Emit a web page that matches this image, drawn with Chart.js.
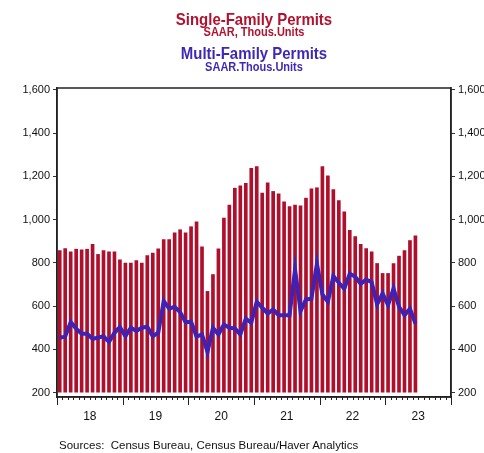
<!DOCTYPE html>
<html>
<head>
<meta charset="utf-8">
<script src="https://cdn.jsdelivr.net/npm/chart.js@4.4.1/dist/chart.umd.min.js"></script>
<style>
  html, body { margin: 0; padding: 0; background: #fff; }
  #wrap { position: relative; width: 484px; height: 453px; }
  .t { position: absolute; left: 0; width: 508px; text-align: center; font-family: "Liberation Sans", Arial, sans-serif; font-weight: bold; white-space: nowrap; line-height: 1; transform: scaleX(0.88); transform-origin: 254px 0; }
  .red { color: #B0122F; }
  .blue { color: #4128B4; }
  #src { position: absolute; left: 59px; top: 439px; font: 11.5px "Liberation Sans", Arial, sans-serif; color: #111; white-space: nowrap; }
</style>
</head>
<body>
<div id="wrap">
  <canvas id="permitsChart" width="484" height="453"></canvas>
  <div class="t red" style="top:11px;font-size:17px;">Single-Family Permits</div>
  <div class="t red" style="top:26px;font-size:12.5px;">SAAR, Thous.Units</div>
  <div class="t blue" style="top:45px;font-size:17px;">Multi-Family Permits</div>
  <div class="t blue" style="top:61px;font-size:12.5px;">SAAR.Thous.Units</div>
  <div id="src">Sources:&nbsp; Census Bureau, Census Bureau/Haver Analytics</div>
</div>
<script>
// monthly, Jan 2018 - Jun 2023
const months = [];
for (let y = 2018; y <= 2023; y++) {
    for (let m = 1; m <= 12; m++) {
        if (y === 2023 && m > 6) break;
        months.push(y + '-' + String(m).padStart(2, '0'));
    }
}

const singleFamily = [
    857, 866, 851, 863, 860, 863, 885, 839, 857, 851, 851, 814,
    799, 799, 811, 799, 833, 845, 865, 908, 908, 939, 953, 939,
    967, 990, 874, 668, 746, 865, 1007, 1067, 1145, 1156, 1167, 1237,
    1245, 1122, 1170, 1130, 1119, 1082, 1060, 1067, 1064, 1099, 1142, 1147,
    1245, 1202, 1138, 1088, 1036, 950, 921, 885, 866, 851, 797, 751,
    751, 797, 831, 857, 903, 925
];

const multiFamily = [
    454, 459, 526, 496, 472, 472, 449, 454, 461, 434, 477, 503,
    461, 500, 485, 500, 505, 461, 477, 623, 588, 597, 572, 526,
    528, 459, 469, 388, 500, 469, 515, 500, 497, 469, 542, 523,
    620, 593, 566, 585, 558, 558, 558, 770, 577, 631, 634, 796,
    654, 620, 739, 708, 680, 750, 736, 703, 723, 711, 608, 659,
    605, 682, 597, 558, 588, 519
];

const yearLabels = ['18', '19', '20', '21', '22', '23'];
const yTicks = [200, 400, 600, 800, 1000, 1200, 1400, 1600];

// x is months since Jan 2018, bar sits in the middle of its month
const sfPoints = singleFamily.map((v, i) => ({ x: i + 0.5, y: v }));
const mfPoints = multiFamily.map((v, i) => ({ x: i + 0.5, y: v }));

const tickFont = { family: '"Liberation Sans", Arial, sans-serif', size: 11 };

const frame = {
    id: 'frame',
    afterDraw(chart) {
        const ctx = chart.ctx;
        const a = chart.chartArea;
        const xs = chart.scales.x;
        ctx.save();
        ctx.strokeStyle = '#222';
        ctx.lineWidth = 1.5;
        ctx.strokeRect(a.left, a.top, a.right - a.left, a.bottom - a.top);
        ctx.lineWidth = 1;
        ctx.beginPath();
        for (let m = 0; m <= yearLabels.length * 12; m++) {
            const px = Math.round(xs.getPixelForValue(m)) + 0.5;
            ctx.moveTo(px, a.bottom);
            ctx.lineTo(px, a.bottom + (m % 12 === 0 ? 8 : 3));
        }
        ctx.stroke();
        ctx.restore();
    }
};

function yAxis(pos) {
    return {
        position: pos,
        min: 180,
        max: 1608,
        afterBuildTicks: s => { s.ticks = yTicks.map(v => ({ value: v })); },
        afterFit: s => { s.width = pos === 'left' ? 57 : 33; },
        grid: { drawOnChartArea: false, tickLength: 4, tickColor: '#333' },
        border: { color: '#222', width: 1.5 },
        ticks: {
            font: tickFont,
            color: '#111',
            padding: 3,
            callback: v => v.toLocaleString('en-US')
        }
    };
}

new Chart(document.getElementById('permitsChart'), {
    data: {
        datasets: [{
            type: 'line',
            label: 'Multi-Family Permits',
            data: mfPoints,
            borderColor: '#3D22B6',
            borderWidth: 4,
            pointRadius: 0,
            tension: 0,
            order: 0
        }, {
            type: 'bar',
            label: 'Single-Family Permits',
            data: sfPoints,
            backgroundColor: '#AE0F2C',
            barThickness: 3,
            base: 200,
            order: 1
        }]
    },
    options: {
        responsive: false,
        animation: false,
        layout: { padding: { top: 88, left: 0, right: 0, bottom: 0 } },
        plugins: { legend: { display: false }, tooltip: { enabled: false } },
        scales: {
            x: {
                type: 'linear',
                offset: false,
                min: 0,
                max: yearLabels.length * 12,
                afterBuildTicks: s => { s.ticks = yearLabels.map((t, i) => ({ value: i * 12 + 6 })); },
                afterFit: s => { s.height = 56; },
                grid: { display: false, drawTicks: false, offset: false },
                border: { color: '#222', width: 1.5 },
                ticks: {
                    font: { family: '"Liberation Sans", Arial, sans-serif', size: 12 },
                    color: '#111',
                    padding: 12,
                    maxRotation: 0,
                    autoSkip: false,
                    callback: v => yearLabels[(v - 6) / 12]
                }
            },
            y: yAxis('left'),
            y2: yAxis('right')
        }
    },
    plugins: [frame]
});
</script>
</body>
</html>
